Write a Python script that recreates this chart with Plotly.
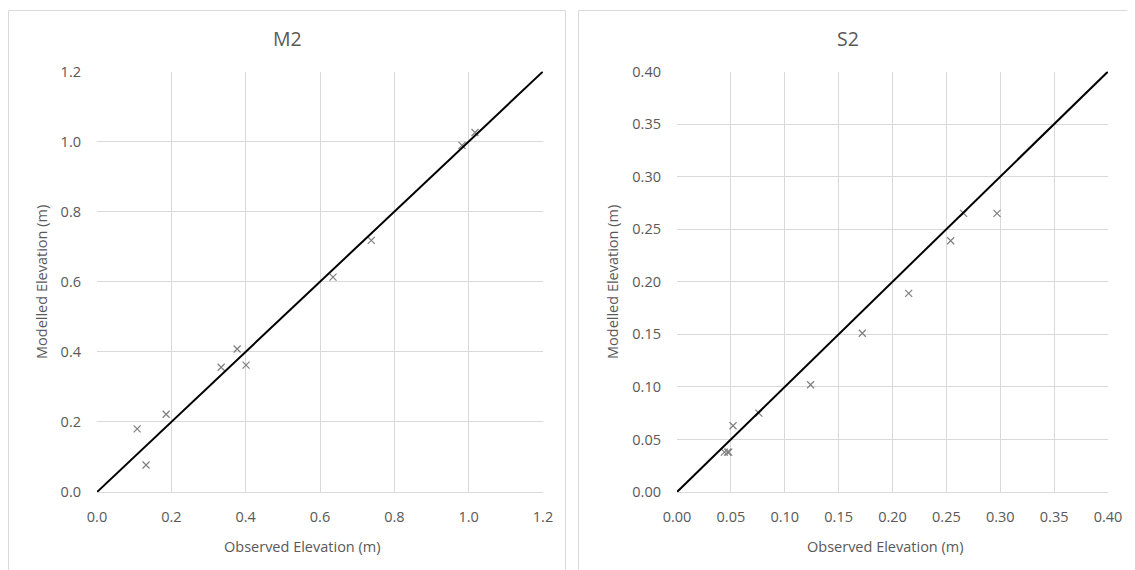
import plotly.graph_objects as go

# page body has an 8px margin, so the figure is shrunk by 8px and coordinates shifted
OFF = 8
W, H = 1135 - OFF, 570 - OFF

# Data
m2_obs = [0.108, 0.132, 0.186, 0.334, 0.377, 0.401, 0.635, 0.738, 0.982, 1.017]
m2_mod = [0.180, 0.077, 0.222, 0.356, 0.408, 0.362, 0.613, 0.718, 0.989, 1.026]
s2_obs = [0.044, 0.047, 0.048, 0.052, 0.076, 0.124, 0.172, 0.215, 0.254, 0.266, 0.297]
s2_mod = [0.038, 0.038, 0.038, 0.063, 0.075, 0.102, 0.151, 0.189, 0.239, 0.265, 0.265]
m2_line = [0.0, 1.2]
s2_line = [0.0, 0.4]
m2_ticks = [0.0, 0.2, 0.4, 0.6, 0.8, 1.0, 1.2]
s2_ticks = [0.00, 0.05, 0.10, 0.15, 0.20, 0.25, 0.30, 0.35, 0.40]

FONT = "Open Sans"
TXT = "#595959"
GRID = "#d9d9d9"

def px(x):
    return (x - OFF) / W

def py(y):
    return 1 - (y - OFF) / H

fig = go.Figure()

marker = dict(symbol="x-thin", size=7, line=dict(width=1.2, color="#7f7f7f"), color="#7f7f7f")

fig.add_trace(go.Scatter(x=m2_obs, y=m2_mod, mode="markers", marker=marker, xaxis="x", yaxis="y", showlegend=False))
fig.add_trace(go.Scatter(x=m2_line, y=m2_line, mode="lines", line=dict(color="black", width=2), xaxis="x", yaxis="y", showlegend=False))
fig.add_trace(go.Scatter(x=s2_obs, y=s2_mod, mode="markers", marker=marker, xaxis="x2", yaxis="y2", showlegend=False))
fig.add_trace(go.Scatter(x=s2_line, y=s2_line, mode="lines", line=dict(color="black", width=2), xaxis="x2", yaxis="y2", showlegend=False))

ydom = [py(492), py(71.5)]

def ax(dom, ticks, fmt, anchor):
    return dict(domain=dom, range=[ticks[0], ticks[-1]], tickvals=ticks,
                ticktext=[fmt.format(t) for t in ticks], showgrid=True, gridcolor=GRID,
                gridwidth=1, zeroline=False, showline=False, ticks="", anchor=anchor,
                automargin=False,
                tickfont=dict(family=FONT, size=14.5, color=TXT), fixedrange=True)

fig.update_layout(
    template="none",
    width=W, height=H,
    margin=dict(l=0, r=0, t=0, b=0, autoexpand=False),
    paper_bgcolor="white", plot_bgcolor="white",
    xaxis=ax([px(97), px(543)], m2_ticks, "{:.1f}", "y"),
    yaxis=ax(ydom, m2_ticks, "{:.1f}", "x"),
    xaxis2=ax([px(677), px(1108)], s2_ticks, "{:.2f}", "y2"),
    yaxis2=ax(ydom, s2_ticks, "{:.2f}", "x2"),
)
for a in ["xaxis", "xaxis2"]:
    fig.layout[a].showline = True
    fig.layout[a].linecolor = GRID
    fig.layout[a].linewidth = 1
    fig.layout[a].mirror = False
    fig.layout[a].ticklabelstandoff = 12
for a in ["yaxis", "yaxis2"]:
    fig.layout[a].ticklabelstandoff = 15

# panel borders
fig.add_shape(type="rect", xref="paper", yref="paper", x0=px(8.5), x1=px(565.5), y0=py(575), y1=py(10.5),
              line=dict(color=GRID, width=1), layer="below")
fig.add_shape(type="rect", xref="paper", yref="paper", x0=px(578.5), x1=px(1140), y0=py(575), y1=py(10.5),
              line=dict(color=GRID, width=1), layer="below")

def ann(x, y, text, size, angle=0):
    fig.add_annotation(x=px(x), y=py(y), xref="paper", yref="paper", text=text, showarrow=False,
                       font=dict(family=FONT, size=size, color=TXT), textangle=angle,
                       xanchor="center", yanchor="middle")

ann(287, 38, "M2", 19.5)
ann(848, 38, "S2", 19.5)
ann(302, 546, "Observed Elevation (m)", 14.5)
ann(885, 546, "Observed Elevation (m)", 14.5)
ann(41, 282, "Modelled Elevation (m)", 14.5, -90)
ann(612, 282, "Modelled Elevation (m)", 14.5, -90)

fig.write_html("out.html")
